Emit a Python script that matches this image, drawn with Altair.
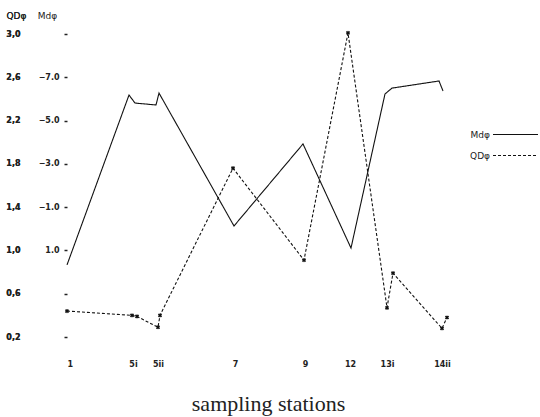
import altair as alt
import pandas as pd

# Station labels on the x axis and their position along the transect
stations = ["1", "5i", "5ii", "7", "9", "12", "13i", "14ii"]
station_pos = [0, 2.64, 3.64, 6.72, 9.52, 11.32, 12.8, 15.0]

# Md-phi series (solid line)
md_pos = [0, 2.48, 2.72, 3.56, 3.68, 6.68, 9.44, 11.36, 12.72, 13.0, 14.88, 15.04]
md_val = [1.67, -6.18, -5.81, -5.72, -6.27, -0.13, -3.92, 0.89, -6.23, -6.50, -6.83, -6.37]

# QD-phi series (dashed line)
qd_pos = [0, 2.6, 2.8, 3.64, 3.72, 6.64, 9.48, 11.24, 12.8, 13.04, 15.0, 15.2]
qd_val = [0.44, 0.40, 0.39, 0.29, 0.40, 1.76, 0.91, 3.01, 0.47, 0.79, 0.28, 0.38]

qd_ticks = [0.2, 0.6, 1.0, 1.4, 1.8, 2.2, 2.6, 3.0]
md_ticks = [-9, -7, -5, -3, -1, 1, 3, 5]
md_labeled = [-7, -5, -3, -1, 1]

series_names = ["Mdφ", "QDφ"]

md_df = pd.DataFrame({"pos": md_pos, "val": md_val, "series": series_names[0],
                      "i": range(len(md_pos))})
qd_df = pd.DataFrame({"pos": qd_pos, "val": qd_val, "series": series_names[1],
                      "i": range(len(qd_pos))})

label_expr = ""
for p, s in zip(station_pos, stations):
    label_expr += f"abs(datum.value - {p}) < 0.01 ? '{s}' : "
label_expr += "''"

x_enc = alt.X(
    "pos:Q",
    scale=alt.Scale(domain=[0, 15.2], nice=False, zero=False),
    axis=alt.Axis(
        values=station_pos, labelExpr=label_expr, ticks=False, domain=False,
        grid=False, labelPadding=23, labelFontSize=8, labelFontWeight="bold",
        labelColor="#222", labelFont="DejaVu Sans",
        title="sampling stations", titleFont="Liberation Serif", titleFontSize=22,
        titleFontWeight="normal", titleColor="#222", titleX=201, titleY=73,
        titleAlign="center", titleBaseline="alphabetic",
    ),
)

dash = alt.StrokeDash(
    "series:N",
    scale=alt.Scale(domain=series_names, range=[[1, 0], [3, 2]]),
    legend=alt.Legend(
        title=None, orient="none", legendX=440, legendY=92,
        symbolType="M-3,0H3", symbolSize=225, symbolStrokeWidth=1.1,
        symbolStrokeColor="#111", symbolFillColor="transparent",
        labelAlign="right", labelOffset={"expr": "-34"},
        labelFontSize=9, labelFont="DejaVu Sans", labelColor="#222",
        rowPadding=7, padding=0,
    ),
)

md_line = alt.Chart(md_df).mark_line(color="#111", strokeWidth=1.1).encode(
    x=x_enc,
    y=alt.Y(
        "val:Q",
        scale=alt.Scale(domain=[5, -9], nice=False, zero=False),
        axis=alt.Axis(
            orient="left", values=md_ticks,
            labelExpr="indexof(" + str(md_labeled) + ", datum.value) >= 0 ? format(datum.value, '.1f') : ''",
            tickSize=3, tickColor="#222", tickWidth=1.5, domain=False, grid=False,
            labelPadding=5, labelFontSize=8, labelFontWeight="bold",
            labelColor="#222", labelFont="DejaVu Sans",
            title="Mdφ", titleAngle=0, titleX=-20, titleY=-19,
            titleAlign="center", titleBaseline="middle", titleFontSize=9,
            titleFontWeight="normal", titleColor="#222", titleFont="DejaVu Sans",
        ),
    ),
    strokeDash=dash,
    order="i:Q",
)

qd_y = alt.Y(
    "val:Q",
    scale=alt.Scale(domain=[0.2, 3.0], nice=False, zero=False),
    axis=alt.Axis(
        orient="left", offset=44, values=qd_ticks,
        labelExpr="replace(format(datum.value, '.1f'), '.', ',')",
        ticks=False, domain=False, grid=False, labelPadding=3,
        labelFontSize=8, labelFontWeight="bold", labelColor="#222",
        labelFont="DejaVu Sans",
        title="QDφ", titleAngle=0, titleX=-7, titleY=-19,
        titleAlign="center", titleBaseline="middle", titleFontSize=9,
        titleFontWeight="normal", titleColor="#222", titleFont="DejaVu Sans",
    ),
)

qd_line = alt.Chart(qd_df).mark_line(color="#111", strokeWidth=1.1).encode(
    x=x_enc, y=qd_y, strokeDash=dash, order="i:Q",
)

qd_pts = alt.Chart(qd_df).mark_point(
    shape="cross", angle=45, size=18, filled=True, color="#111", opacity=1
).encode(x=x_enc, y=qd_y)

chart = (
    alt.layer(md_line, qd_line, qd_pts)
    .resolve_scale(y="independent")
    .properties(
        width=380, height=303,
        padding={"left": 67, "top": 34, "right": 93, "bottom": 80},
        autosize=alt.AutoSizeParams(type="none"),
        background="white",
    )
    .configure_view(stroke=None)
)

chart.save("out.html", embed_options={"renderer": "svg", "actions": False})
